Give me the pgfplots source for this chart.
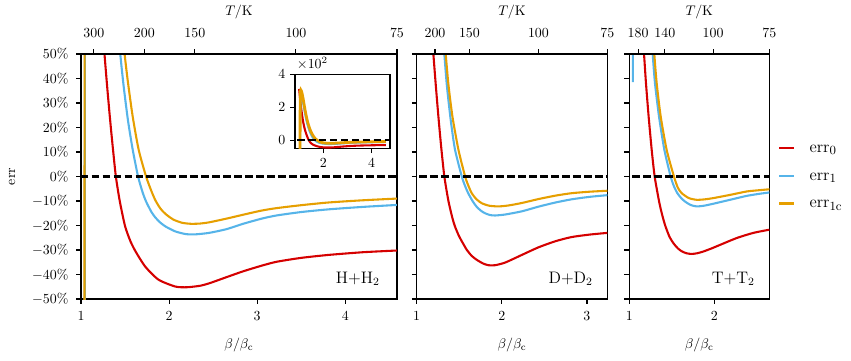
\documentclass[border=0pt]{standalone}
\usepackage{pgfplots}
\usepackage{pgfplotstable}
\pgfplotsset{compat=1.18}

\definecolor{cErrZero}{RGB}{213,0,0}
\definecolor{cErrOne}{RGB}{86,180,233}
\definecolor{cErrOnec}{RGB}{230,159,0}

% ---- H + H2 (err in %) ----
\pgfplotstableread{
b e
1.00 311
1.02 282
1.05 240
1.08 200
1.12 155
1.16 117
1.20 87
1.235 66.5
1.267 50
1.30 35.5
1.335 21.5
1.365 10.5
1.396 0
1.44 -10
1.50 -20.2
1.56 -26.3
1.62 -30.6
1.73 -36.8
1.88 -42.1
2.07 -44.9
2.2 -45.2
2.35 -44.6
2.455 -43.6
2.65 -41.1
2.84 -38.7
3.05 -36.4
3.22 -34.8
3.5 -33.2
3.81 -32.0
4.2 -30.9
4.5867 -30.2
}\hZero
\pgfplotstableread{
b e
1.038 -500
1.046 270
1.046 nan
1.046 270
1.07 285
1.10 276
1.15 242
1.20 198
1.25 158
1.30 122
1.35 93
1.40 69
1.446 50
1.484 37
1.533 23
1.587 11
1.648 0
1.70 -6.5
1.739 -10.2
1.80 -14.5
1.846 -16.8
1.90 -18.8
1.96 -20.4
2.07 -22.4
2.19 -23.5
2.30 -23.6
2.455 -23.0
2.65 -21.5
2.84 -19.3
3.05 -17.2
3.22 -15.9
3.5 -14.5
3.81 -13.4
4.2 -12.4
4.5867 -11.6
}\hOne
\pgfplotstableread{
b e
1.036 -500
1.043 290
1.043 nan
1.043 290
1.07 305
1.10 297
1.15 265
1.20 222
1.25 180
1.30 143
1.35 112
1.40 86
1.45 65
1.495 50
1.533 38.5
1.587 24.5
1.655 10.9
1.739 0
1.80 -6
1.846 -9.8
1.90 -13
1.96 -15.3
2.05 -17.6
2.15 -18.9
2.25 -19.3
2.35 -19.2
2.455 -18.7
2.65 -17.2
2.84 -15.6
3.05 -13.9
3.22 -12.9
3.5 -11.7
3.81 -10.6
4.2 -9.7
4.5867 -9.0
}\hOnec

% ---- D + D2 ----
\pgfplotstableread{
b e
1.08 111
1.11 93
1.14 77
1.17 62
1.196 50
1.225 37
1.255 24.5
1.288 12
1.325 0
1.373 -10
1.42 -17
1.45 -20.4
1.50 -24.5
1.588 -29.9
1.65 -32.5
1.706 -34.0
1.78 -35.5
1.843 -36.2
1.92 -36.2
2.04 -35.1
2.235 -32.0
2.43 -28.9
2.63 -26.4
2.82 -24.7
3.03 -23.7
3.24 -23.0
}\dZero
\pgfplotstableread{
b e
1.15 170
1.19 132
1.23 102
1.27 78
1.30 62
1.325 50
1.355 37
1.40 23
1.45 11
1.53 0
1.57 -4
1.608 -7
1.66 -10.2
1.706 -12.4
1.76 -14.1
1.804 -15.0
1.86 -15.7
1.92 -15.9
2.04 -15.5
2.235 -14.2
2.43 -12.3
2.63 -10.6
2.82 -9.3
3.03 -8.3
3.24 -7.6
}\dOne
\pgfplotstableread{
b e
1.20 135
1.24 105
1.28 80
1.32 60
1.341 50
1.373 37.5
1.42 24.5
1.49 11
1.569 0
1.61 -4
1.647 -6.8
1.70 -9.2
1.765 -10.9
1.85 -11.9
1.96 -12.2
2.08 -11.8
2.235 -10.8
2.43 -9.2
2.63 -7.8
2.82 -6.8
3.03 -6.2
3.24 -5.8
}\dOnec

% ---- T + T2 ----
\pgfplotstableread{
b e
1.08 106
1.11 86
1.14 68
1.173 50
1.196 38
1.227 24.5
1.263 10.9
1.298 0
1.349 -10
1.38 -14.8
1.42 -19.8
1.47 -24.4
1.518 -27.2
1.57 -29.3
1.616 -30.5
1.67 -31.3
1.733 -31.6
1.80 -31.3
1.871 -30.6
1.97 -29.3
2.067 -27.9
2.263 -25.1
2.459 -23.0
2.647 -21.7
}\tZero
\pgfplotstableread{
b e
1.042 38.5
1.048 160
1.048 nan
1.048 160
1.10 168
1.15 140
1.20 98
1.24 70
1.275 50
1.302 38
1.349 24.5
1.412 10.9
1.486 0
1.525 -4
1.565 -6.8
1.61 -8.8
1.655 -10.2
1.72 -11.6
1.792 -12.2
1.88 -11.9
1.988 -11.1
2.184 -9.5
2.38 -7.9
2.52 -7.1
2.647 -6.5
}\tOne
\pgfplotstableread{
b e
1.20 120
1.26 70
1.294 50
1.322 38
1.369 24.5
1.439 10.9
1.525 0
1.57 -4.5
1.616 -6.8
1.70 -8.8
1.792 -9.5
1.89 -9.3
1.988 -8.8
2.184 -7.5
2.38 -6.1
2.52 -5.6
2.647 -5.2
}\tOnec

\pgfplotsset{
  frame/.style={scale only axis, anchor=south west, clip mode=individual,
    tick align=outside, major tick length=3.5pt,
    tick style={black, line width=0.8pt},
    axis line style={line width=0.8pt},
    xtick pos=left, ytick pos=left},
  panel/.style={frame, height=176.4pt,
    ymin=-50, ymax=50, ytick={-50,-40,...,50},
    yticklabel={$\pgfmathprintnumber{\tick}\%$},
    yticklabel style={xshift=-2pt},
    xticklabel style={yshift=-2pt},
    xlabel={$\beta/\beta_\mathrm{c}$},
    xlabel style={at={(axis description cs:0.5,-0.1876)}, anchor=center}},
  topx/.style={scale only axis, anchor=south west, height=176.4pt,
    ymin=0, ymax=1, hide y axis, axis x line*=top,
    tick align=outside, major tick length=3.5pt,
    tick style={black, line width=0.8pt},
    axis line style={line width=0.8pt},
    xlabel={$T/\mathrm{K}$},
    xlabel style={at={(axis description cs:0.5,1.172)}, anchor=center},
    xticklabel style={yshift=5pt}},
  cv/.style={line width=1.5pt, smooth, tension=0.4, unbounded coords=jump},
  zl/.style={black, line width=1.5pt, dash pattern=on 5.5pt off 2.4pt, forget plot},
}
\tikzset{lab/.style={anchor=base east, font=\large, inner sep=0pt}}

\begin{document}
\begin{tikzpicture}
\useasboundingbox (0,0) rectangle (612.7pt,259.2pt);

% ---------- panel 1: H + H2 ----------
\begin{axis}[panel, at={(58.3pt,43.9pt)}, width=227.5pt,
    xmin=1, xmax=4.5867, xtick={1,2,3,4},
    ylabel={err},
    ylabel style={at={(axis description cs:-0.218,0.5)}, anchor=center}]
\addplot[cv, cErrZero] table[x=b, y=e] {\hZero};
\addplot[cv, cErrOne] table[x=b, y=e] {\hOne};
\addplot[cv, cErrOnec] table[x=b, y=e] {\hOnec};
\addplot[zl] coordinates {(0,0) (6,0)};
\node[lab, xshift=-12.2pt, yshift=11.3pt] at (rel axis cs:1,0) {H+H$_2$};
\end{axis}
\begin{axis}[topx, at={(58.3pt,43.9pt)}, width=227.5pt,
    xmin=1, xmax=4.5867,
    xtick={1.1467,1.72,2.2933,3.44,4.5867},
    xticklabels={300,200,150,100,75}]
\end{axis}

% inset
\begin{axis}[frame, at={(212.4pt,152.4pt)}, width=68.4pt, height=53.3pt,
    xmin=0.83, xmax=4.76, ymin=-0.5, ymax=4,
    xtick={2,4}, ytick={0,2,4}]
\addplot[cv, cErrZero] table[x=b, y expr=\thisrow{e}/100] {\hZero};
\addplot[cv, cErrOne] table[x=b, y expr=\thisrow{e}/100] {\hOne};
\addplot[cv, cErrOnec, line width=2pt] table[x=b, y expr=\thisrow{e}/100] {\hOnec};
\addplot[zl] coordinates {(0,0) (6,0)};
\node[anchor=base west, inner sep=0pt, xshift=1.2pt, yshift=4.3pt] at (rel axis cs:0,1) {$\times10^{2}$};
\end{axis}

% ---------- panel 2: D + D2 ----------
\begin{axis}[panel, at={(300.0pt,43.9pt)}, width=137.3pt,
    xmin=1, xmax=3.24, xtick={1,2,3}, yticklabels={}]
\addplot[cv, cErrZero] table[x=b, y=e] {\dZero};
\addplot[cv, cErrOne] table[x=b, y=e] {\dOne};
\addplot[cv, cErrOnec] table[x=b, y=e] {\dOnec};
\addplot[zl] coordinates {(0,0) (6,0)};
\node[lab, xshift=-10.3pt, yshift=11.3pt] at (rel axis cs:1,0) {D+D$_2$};
\end{axis}
\begin{axis}[topx, at={(300.0pt,43.9pt)}, width=137.3pt,
    xmin=1, xmax=3.24,
    xtick={1.215,1.62,2.43,3.24},
    xticklabels={200,150,100,75}]
\end{axis}

% ---------- panel 3: T + T2 ----------
\begin{axis}[panel, at={(453.1pt,43.9pt)}, width=100.8pt,
    xmin=1, xmax=2.6467, xtick={1,2}, yticklabels={},
    legend cell align=left,
    legend image code/.code={\draw[#1, line width=1.5pt] (0pt,0pt) -- (10.4pt,0pt);},
    legend style={draw=none, fill=none, at={(axis description cs:1.0645,0.5034)},
      anchor=west, inner sep=0pt, outer sep=0pt, row sep=10.5pt, column sep=10.6pt,
      nodes={inner sep=0pt, text height=8pt, text depth=1.5pt},
      font=\fontsize{13}{15}\selectfont}]
\addplot[cv, cErrZero] table[x=b, y=e] {\tZero};
\addlegendentry{$\mathrm{err}_0$}
\addplot[cv, cErrOne] table[x=b, y=e] {\tOne};
\addlegendentry{$\mathrm{err}_1$}
\addplot[cv, cErrOnec] table[x=b, y=e] {\tOnec};
\addlegendentry{$\mathrm{err}_{1\mathrm{c}}$}
\addplot[zl] coordinates {(0,0) (6,0)};
\node[lab, xshift=-10.3pt, yshift=11.3pt] at (rel axis cs:1,0) {T+T$_2$};
\end{axis}
\begin{axis}[topx, at={(453.1pt,43.9pt)}, width=100.8pt,
    xmin=1, xmax=2.6467,
    xtick={1.1028,1.4179,1.985,2.6467},
    xticklabels={180,140,100,75}]
\end{axis}
\end{tikzpicture}
\end{document}
